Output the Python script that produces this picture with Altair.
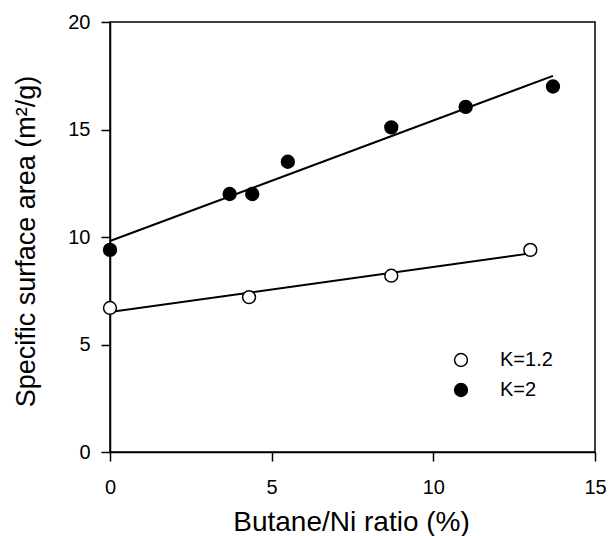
import altair as alt
import pandas as pd

series_names = ["K=1.2", "K=2"]
k12_x = [0.0, 4.3, 8.7, 13.0]
k12_y = [6.7, 7.2, 8.2, 9.4]
k2_x = [0.0, 3.7, 4.4, 5.5, 8.7, 11.0, 13.7]
k2_y = [9.4, 12.0, 12.0, 13.5, 15.1, 16.05, 17.0]
x_ticks = [0, 5, 10, 15]
y_ticks = [0, 5, 10, 15, 20]

rows = []
for xv, yv in zip(k12_x, k12_y):
    rows.append({"ratio": xv, "area": yv, "series": series_names[0]})
for xv, yv in zip(k2_x, k2_y):
    rows.append({"ratio": xv, "area": yv, "series": series_names[1]})
df = pd.DataFrame(rows)

FONT = "Liberation Sans"

x_enc = alt.X(
    "ratio:Q",
    scale=alt.Scale(domain=[0, 15], nice=False, zero=False),
    axis=alt.Axis(values=x_ticks, title="Butane/Ni ratio (%)", labelPadding=16,
                  labelFlush=False, titleFontSize=28, titleX=241, titleY=56, format="d"),
)
y_enc = alt.Y(
    "area:Q",
    scale=alt.Scale(domain=[0, 20], nice=False),
    axis=alt.Axis(values=y_ticks, title="Specific surface area (m²/g)", labelPadding=11,
                  labelFlush=False, titleFontSize=27,
                  titleX=-70, titleY=219, titleAngle=-90, format="d"),
)

base = alt.Chart(df)

lines = base.transform_regression(
    "ratio", "area", groupby=["series"]
).mark_line(color="black", strokeWidth=2).encode(
    x=x_enc, y=y_enc, detail="series:N"
)

points = base.mark_circle(opacity=1, size=165, stroke="black", strokeWidth=1.5).encode(
    x=x_enc,
    y=y_enc,
    fill=alt.Fill(
        "series:N",
        scale=alt.Scale(domain=series_names, range=["white", "black"]),
        legend=alt.Legend(
            orient="none", legendX=341, legendY=328, title=None, padding=0,
            labelFont=FONT, labelFontSize=20, labelColor="black", labelOffset=29,
            symbolType="circle", symbolSize=165, symbolStrokeColor="black",
            symbolStrokeWidth=1.5, rowPadding=10,
        ),
    ),
)

chart = alt.layer(lines, points).properties(
    width=485,
    height=430,
    padding={"left": 102, "top": 14, "right": 11, "bottom": 84},
    autosize=alt.AutoSizeParams(type="none"),
    background="white",
).configure_view(
    stroke="black", strokeWidth=1.5
).configure_axis(
    grid=False, domainColor="black", domainWidth=1.5, tickColor="black",
    tickWidth=1.5, tickSize=9, labelFont=FONT, labelFontSize=20, labelColor="black",
    titleFont=FONT, titleFontWeight="normal", titleColor="black",
)

chart.save("out.html", embed_options={"renderer": "svg", "actions": False})
